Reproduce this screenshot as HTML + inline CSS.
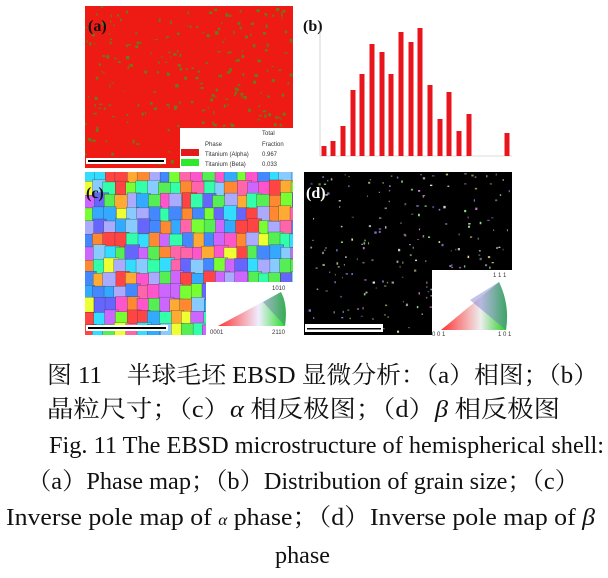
<!DOCTYPE html>
<html><head><meta charset="utf-8"><style>
body{margin:0;width:608px;height:578px;background:#fff;position:relative;overflow:hidden}
.t{position:absolute;white-space:nowrap;font-family:"Liberation Serif","Noto Serif CJK SC",serif;font-size:24px;color:#111;line-height:24px;transform-origin:0 0}
</style></head><body>
<svg width="608" height="345" style="position:absolute;left:0;top:0" xmlns="http://www.w3.org/2000/svg">
<defs>
<clipPath id="cc"><rect x="85" y="172" width="208" height="163"/></clipPath>
<linearGradient id="g1" x1="0" y1="0" x2="1" y2="0"><stop offset="0" stop-color="#f33"/><stop offset="0.6" stop-color="#eef"/><stop offset="1" stop-color="#2d2"/></linearGradient>
<linearGradient id="g2" x1="0" y1="0" x2="1" y2="0"><stop offset="0" stop-color="#f33"/><stop offset="0.6" stop-color="#eee"/><stop offset="1" stop-color="#2c2"/></linearGradient></defs>
<rect x="85" y="6" width="208" height="162" fill="#ee1b14"/>
<g id="dots" fill="#6a7a1a"></g>
<rect x="86" y="158" width="80" height="6" fill="#fff"/>
<rect x="88" y="160" width="76" height="2" fill="#000"/>
<rect x="180" y="128" width="113" height="40" fill="#fff"/>
<text x="205" y="146" font-size="6" font-family="Liberation Sans" fill="#333">Phase</text>
<text x="262" y="135" font-size="6" font-family="Liberation Sans" fill="#333">Total</text>
<text x="262" y="146" font-size="6" font-family="Liberation Sans" fill="#333">Fraction</text>
<rect x="181" y="149" width="18" height="7" fill="#e31a1c"/>
<rect x="181" y="159" width="18" height="7" fill="#2ee82e"/>
<text x="205" y="156" font-size="6" font-family="Liberation Sans" fill="#333">Titanium (Alpha)</text>
<text x="205" y="166" font-size="6" font-family="Liberation Sans" fill="#333">Titanium (Beta)</text>
<text x="262" y="156" font-size="6" font-family="Liberation Sans" fill="#333">0.967</text>
<text x="262" y="166" font-size="6" font-family="Liberation Sans" fill="#333">0.033</text>
<text x="88" y="31" font-size="16" font-weight="bold" font-family="Liberation Serif" fill="#111">(a)</text>
<text x="303" y="31" font-size="16" font-weight="bold" font-family="Liberation Serif" fill="#111">(b)</text>
<line x1="320" y1="156" x2="512" y2="156" stroke="#bbb" stroke-width="0.6"/>
<line x1="320" y1="30" x2="320" y2="156" stroke="#bbb" stroke-width="0.6"/>
<g id="bars" fill="#e8161c"></g>
<rect x="85" y="172" width="208" height="163" fill="#8ad"/>
<g id="grains" clip-path="url(#cc)"></g>
<rect x="206" y="282" width="87" height="53" fill="#fff"/>
<path d="M218 326 L285 326 Q288 305 281 292 Z" fill="url(#g1)"/>
<path d="M263 302 L281 292 Q288 305 285 326 Z" fill="#55a" opacity="0.35"/>
<text x="272" y="290" font-size="6" font-family="Liberation Sans" fill="#333">1010</text>
<text x="210" y="334" font-size="6" font-family="Liberation Sans" fill="#333">0001</text>
<text x="272" y="334" font-size="6" font-family="Liberation Sans" fill="#333">2110</text>
<rect x="86" y="325" width="82" height="6" fill="#fff"/><rect x="88" y="327" width="78" height="2" fill="#000"/>
<text x="86" y="198" font-size="16" font-weight="bold" font-family="Liberation Serif" fill="#111">(c)</text>
<rect x="304" y="172" width="208" height="163" fill="#000"/>
<g id="specks"></g>
<rect x="432" y="270" width="80" height="65" fill="#fff"/>
<path d="M441 330 L506 330 Q510 305 499 282 Z" fill="url(#g2)"/>
<path d="M470 300 L499 282 Q510 305 506 330 Z" fill="#66c" opacity="0.4"/>
<text x="493" y="277" font-size="6" font-family="Liberation Sans" fill="#333">1 1 1</text>
<text x="432" y="336" font-size="6" font-family="Liberation Sans" fill="#333">0 0 1</text>
<text x="498" y="336" font-size="6" font-family="Liberation Sans" fill="#333">1 0 1</text>
<rect x="305" y="324" width="78" height="8" fill="#fff"/><rect x="307" y="328" width="74" height="1.5" fill="#000"/>
<text x="306" y="198" font-size="16" font-weight="bold" font-family="Liberation Serif" fill="#fff">(d)</text>
</svg>
<div class="t" data-w="551" style="left:47px;top:364px">图 11&nbsp;&nbsp;&nbsp;&nbsp;半球毛坯 EBSD 显微分析：（a）相图；（b）</div>
<div class="t" data-w="513" style="left:47px;top:398px">晶粒尺寸；（c）<i>α</i> 相反极图；（d）<i>β</i> 相反极图</div>
<div class="t" data-w="555" style="left:49px;top:434px">Fig. 11 The EBSD microstructure of hemispherical shell:</div>
<div class="t" data-w="552" style="left:27px;top:470px">（a）Phase map；（b）Distribution of grain size；（c）</div>
<div class="t" data-w="589" style="left:6px;top:506px">Inverse pole map of <span style="font-size:16px"><i>α</i></span> phase；（d）Inverse pole map of <i>β</i></div>
<div class="t" data-w="55" style="left:275px;top:544px">phase</div>
<script>
var s=7;function r(){s=(s*16807)%2147483647;return s/2147483647;}
var ns="http://www.w3.org/2000/svg";
function add(p,tag,at){var e=document.createElementNS(ns,tag);for(var k in at)e.setAttribute(k,at[k]);document.getElementById(p).appendChild(e);}
for(var i=0;i<260;i++)add("dots","rect",{x:85+r()*206,y:6+r()*160,width:1+r()*2.5,height:1+r()*2.5});
var xs=[244,253,263,273,282,292,302,311,321,331,340,350,360,369,379,389,427];
var ys=[146,141,126,90,74,44,52,74,32,42,28,85,119,92,131,114,133];
for(var i=0;i<xs.length;i++)add("bars","rect",{x:80+xs[i]-2.5,y:ys[i],width:5,height:156-ys[i]});
var cols=["#f44","#f6a","#c6f","#66f","#3af","#3df","#3fa","#7f3","#ef3","#fa3","#f83","#aaf","#8cf","#f5c","#5e5","#48f"];
for(var yy=168;yy<335;yy+=13)for(var xx=82;xx<293;xx+=11){add("grains","rect",{x:xx+(r()-0.5)*3,y:yy+(r()-0.5)*3,width:12+r()*3,height:14+r()*3,fill:cols[Math.floor(r()*cols.length)],stroke:"#333","stroke-width":0.3});}
var sc=["#fff","#9f9","#ccc","#f9f","#99f","#ff9"];
for(var i=0;i<220;i++)add("specks","rect",{x:305+r()*205,y:173+r()*160,width:1+r()*1.5,height:1+r()*1.5,fill:sc[Math.floor(r()*sc.length)],opacity:0.4+r()*0.5});
var ts=document.querySelectorAll(".t");
for(var i=0;i<ts.length;i++){var w=ts[i].getBoundingClientRect().width;var tw=+ts[i].getAttribute("data-w");ts[i].style.transform="scaleX("+(tw/w)+")";}
</script>
</body></html>
